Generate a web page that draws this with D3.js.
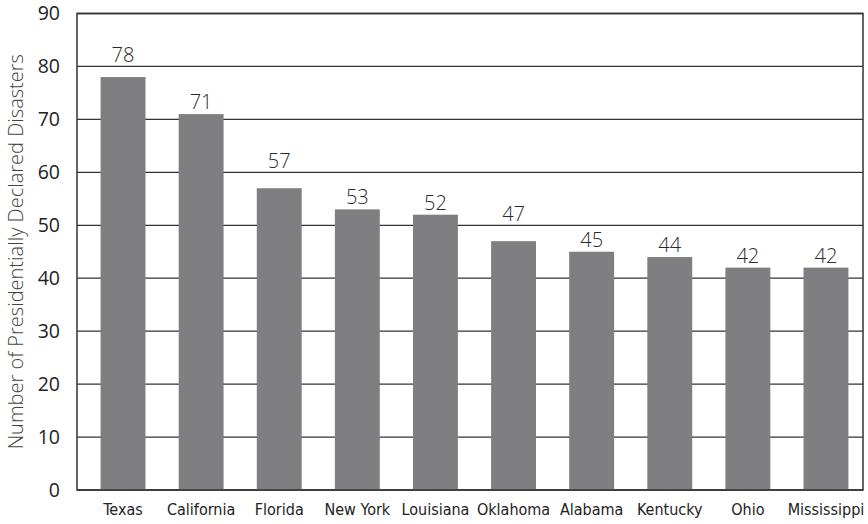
<!DOCTYPE html>
<html>
<head>
<meta charset="utf-8">
<script src="https://cdn.jsdelivr.net/npm/d3@7"></script>
<style>
  body { margin: 0; background: #fff; }
  svg { display: block; }
</style>
</head>
<body>
<svg id="chart" width="868" height="524"></svg>
<script>
var states = ["Texas", "California", "Florida", "New York", "Louisiana", "Oklahoma", "Alabama", "Kentucky", "Ohio", "Mississippi"];
var disasters = [78, 71, 57, 53, 52, 47, 45, 44, 42, 42];
var yTicks = [0, 10, 20, 30, 40, 50, 60, 70, 80, 90];

var svg = d3.select("#chart");
var plotLeft = 77, plotRight = 863, plotTop = 13.5, plotBottom = 490;

var x = d3.scaleBand()
    .domain(states)
    .range([83, 866])
    .paddingInner(0.425)
    .paddingOuter(0.225);

var y = d3.scaleLinear()
    .domain([0, 90])
    .range([plotBottom, plotTop]);

// gridlines
svg.append("g")
    .selectAll("line")
    .data(yTicks)
    .enter()
    .append("line")
    .attr("x1", plotLeft)
    .attr("x2", plotRight)
    .attr("y1", function (d) { return y(d); })
    .attr("y2", function (d) { return y(d); })
    .attr("stroke", "#333")
    .attr("stroke-width", 1.3);

// bars
svg.append("g")
    .selectAll("rect")
    .data(disasters)
    .enter()
    .append("rect")
    .attr("x", function (d, i) { return x(states[i]); })
    .attr("y", function (d) { return y(d); })
    .attr("width", x.bandwidth())
    .attr("height", function (d) { return y(0) - y(d); })
    .attr("fill", "#7f7f82");

// frame
svg.append("rect")
    .attr("x", plotLeft)
    .attr("y", plotTop)
    .attr("width", plotRight - plotLeft)
    .attr("height", plotBottom - plotTop)
    .attr("fill", "none")
    .attr("stroke", "#333")
    .attr("stroke-width", 1.5);

// label sits just above the bar, unless a gridline would cross it -
// then it's lifted to sit above that gridline
function labelY(d) {
    var base = y(d) - 5;
    var capTop = base - 15;
    for (var i = 0; i < yTicks.length; i++) {
        var gy = y(yTicks[i]);
        if (gy > capTop - 2 && gy < base + 2 && gy < y(d) - 1) {
            return gy - 4;
        }
    }
    return base;
}

// value labels
svg.append("g")
    .selectAll("text")
    .data(disasters)
    .enter()
    .append("text")
    .attr("x", function (d, i) { return x(states[i]) + x.bandwidth() / 2; })
    .attr("y", function (d) { return labelY(d); })
    .attr("text-anchor", "middle")
    .style("font-family", "'Open Sans', 'Noto Sans', sans-serif")
    .style("font-weight", 300)
    .style("font-size", "20px")
    .style("fill", "#2a2a2a")
    .text(function (d) { return d; });

// y axis tick labels
var yAxis = d3.axisLeft(y).tickValues(yTicks).tickSize(0).tickPadding(17);
var yg = svg.append("g")
    .attr("transform", "translate(" + plotLeft + ",0)")
    .call(yAxis);
yg.select(".domain").remove();
yg.selectAll("text")
    .style("font-family", "'Open Sans', 'Noto Sans', sans-serif")
    .style("font-size", "19.5px")
    .style("fill", "#222");

// x axis labels
var xAxis = d3.axisBottom(x).tickSize(0).tickPadding(14);
var xg = svg.append("g")
    .attr("transform", "translate(0," + plotBottom + ")")
    .call(xAxis);
xg.select(".domain").remove();
xg.selectAll("text")
    .style("font-family", "'Liberation Sans Narrow', 'DejaVu Sans Condensed', sans-serif")
    .style("font-size", "16px")
    .style("fill", "#222");

// y axis title
svg.append("text")
    .attr("transform", "translate(23," + ((plotTop + plotBottom) / 2) + ") rotate(-90)")
    .attr("text-anchor", "middle")
    .style("font-family", "'Open Sans', 'Noto Sans', sans-serif")
    .style("font-weight", 300)
    .style("font-size", "20px")
    .style("fill", "#444")
    .text("Number of Presidentially Declared Disasters");
</script>
</body>
</html>
